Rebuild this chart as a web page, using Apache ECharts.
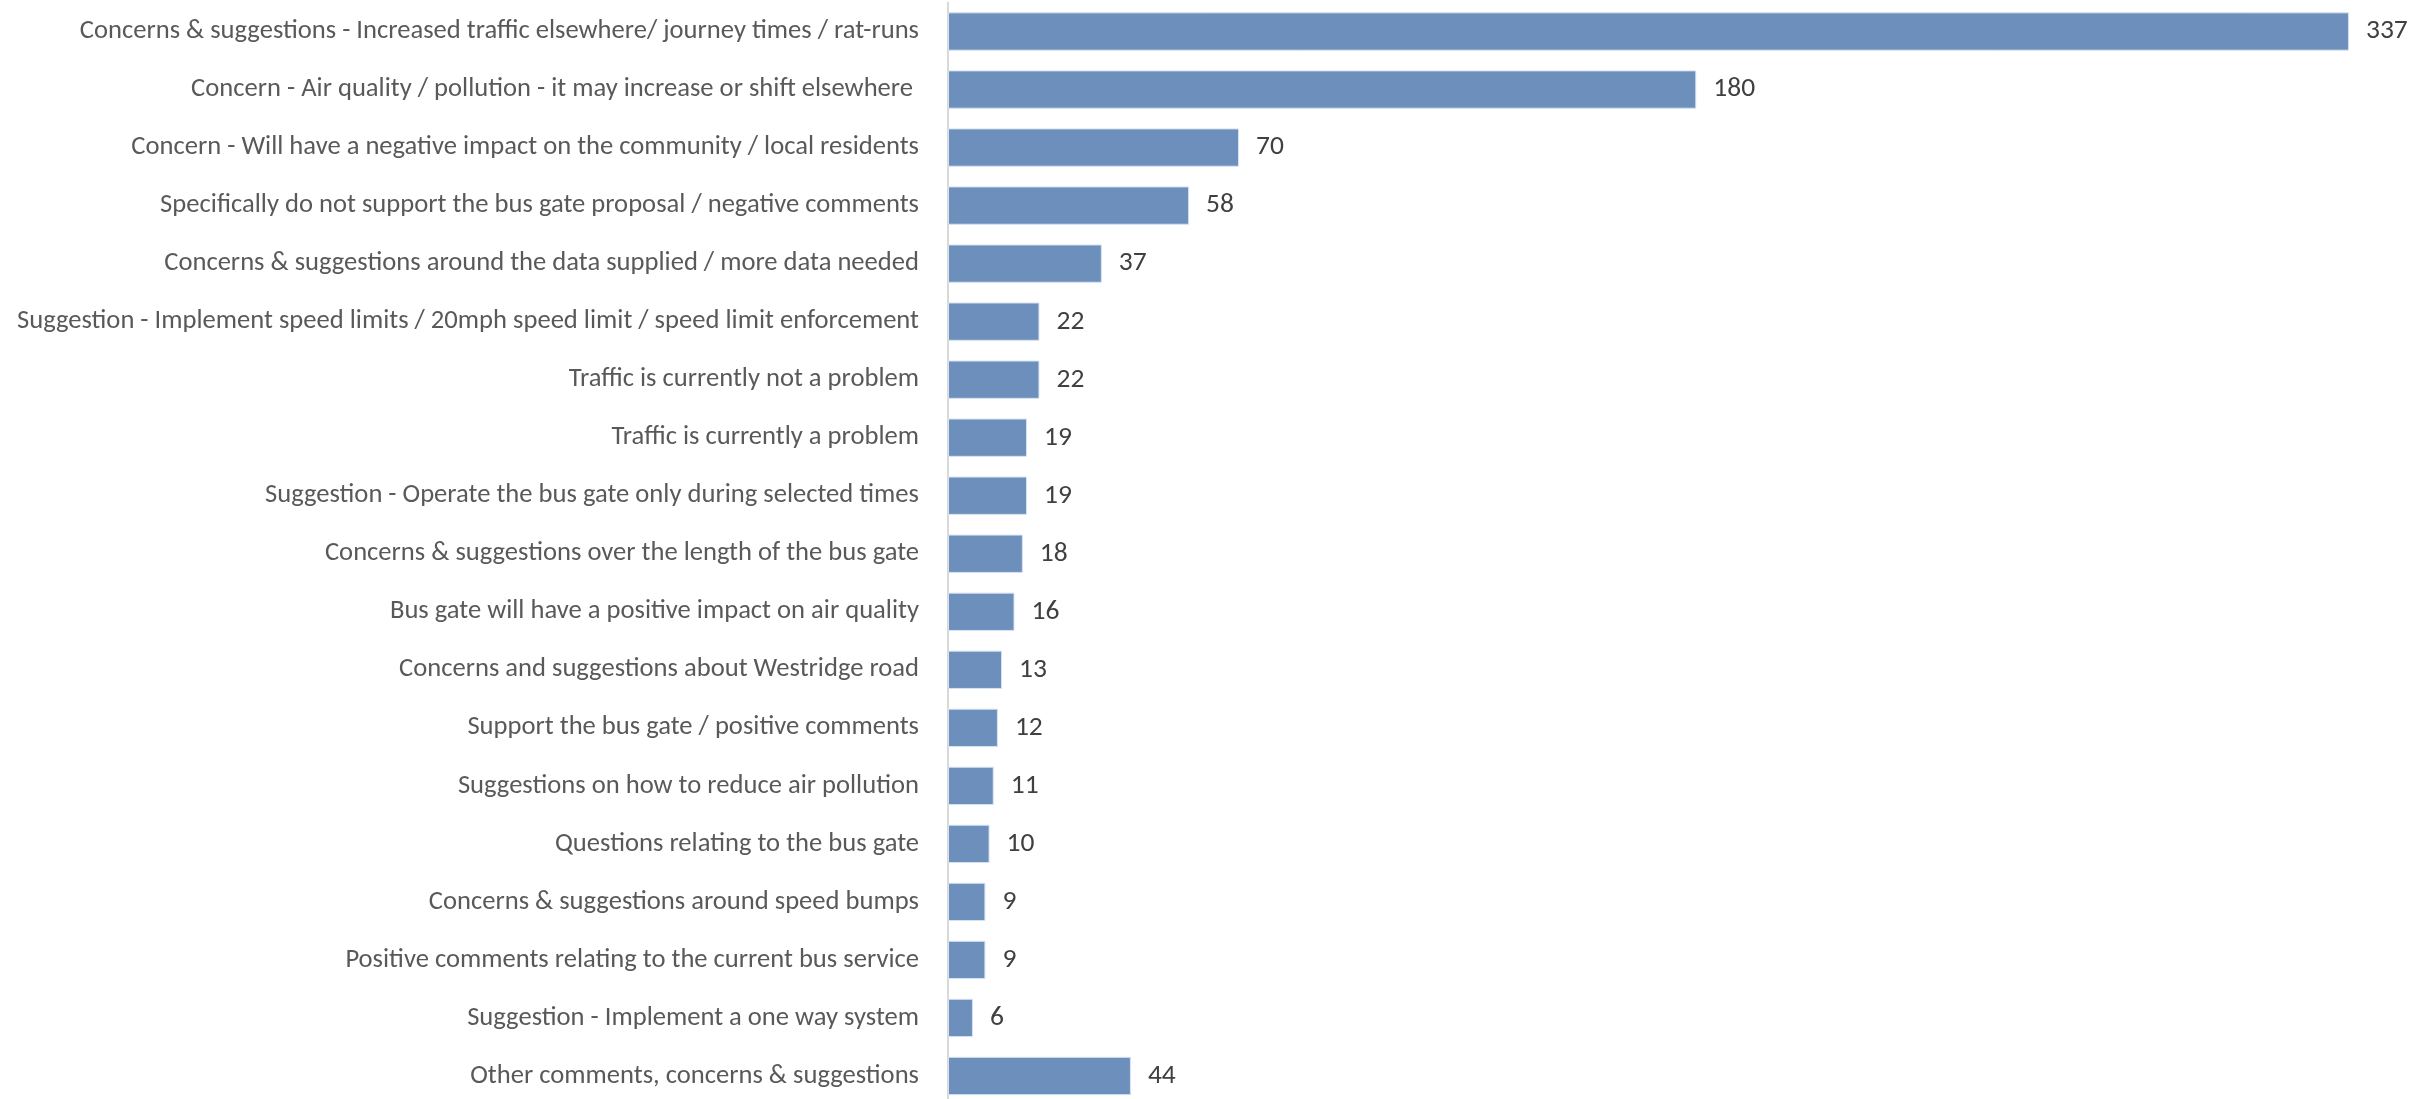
<!DOCTYPE html>
<html>
<head>
<meta charset="utf-8">
<script src="https://cdn.jsdelivr.net/npm/echarts@6/dist/echarts.min.js"></script>
<style>
html,body{margin:0;padding:0;background:#fff;}
#chart{width:2410px;height:1099px;}
</style>
</head>
<body>
<div id="chart"></div>
<script>
const categories = [
  "Concerns & suggestions - Increased traffic elsewhere/ journey times / rat-runs",
  "Concern - Air quality / pollution - it may increase or shift elsewhere ",
  "Concern - Will have a negative impact on the community / local residents",
  "Specifically do not support the bus gate proposal / negative comments",
  "Concerns & suggestions around the data supplied / more data needed",
  "Suggestion - Implement speed limits / 20mph speed limit / speed limit enforcement",
  "Traffic is currently not a problem",
  "Traffic is currently a problem",
  "Suggestion - Operate the bus gate only during selected times",
  "Concerns & suggestions over the length of the bus gate",
  "Bus gate will have a positive impact on air quality",
  "Concerns and suggestions about Westridge road",
  "Support the bus gate / positive comments",
  "Suggestions on how to reduce air pollution",
  "Questions relating to the bus gate",
  "Concerns & suggestions around speed bumps",
  "Positive comments relating to the current bus service",
  "Suggestion - Implement a one way system",
  "Other comments, concerns & suggestions"
];
const values = [337, 180, 70, 58, 37, 22, 22, 19, 19, 18, 16, 13, 12, 11, 10, 9, 9, 6, 44];

const FONT = "Carlito, Calibri, 'Liberation Sans Narrow', 'Open Sans', sans-serif";
const chart = echarts.init(document.getElementById('chart'), null, {renderer: 'canvas'});
chart.setOption({
  animation: false,
  backgroundColor: '#ffffff',
  grid: {left: 948, top: 2.5, width: 1455, height: 1102.5, containLabel: false, outerBoundsMode: 'none'},
  xAxis: {
    type: 'value', min: 0, max: 350,
    show: false,
    splitLine: {show: false}
  },
  yAxis: {
    type: 'category',
    data: categories,
    inverse: true,
    axisLine: {show: true, lineStyle: {color: '#d9d9d9', width: 2}},
    axisTick: {show: false},
    axisLabel: {color: '#595959', fontSize: 26.6, fontFamily: FONT, margin: 29}
  },
  series: [{
    type: 'bar',
    data: values,
    barCategoryGap: '34%',
    itemStyle: {color: '#6c8fbb', borderColor: '#d6e2f0', borderWidth: 1},
    label: {
      show: true, position: 'right', distance: 17,
      color: '#404040', fontSize: 27.5, fontFamily: FONT
    }
  }]
});
</script>
</body>
</html>
